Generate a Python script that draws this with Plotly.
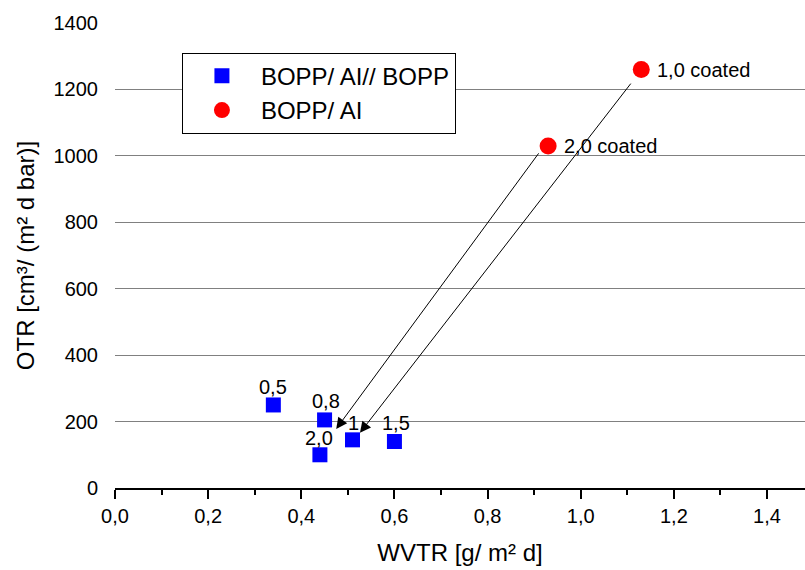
import plotly.graph_objects as go

# BOPP/Al//BOPP laminates (labelled by coating weight)
lam_wvtr = [0.34, 0.45, 0.44, 0.51, 0.60]
lam_otr = [250, 205, 100, 145, 140]
lam_labels = ["0,5", "0,8", "2,0", "1", "1,5"]

# BOPP/Al, coated
al_wvtr = [0.93, 1.13]
al_otr = [1030, 1260]
al_labels = ["2,0 coated", "1,0 coated"]

# Arrows from each coated BOPP/Al point to its laminate counterpart
arrow_tail_x = [0.912, 1.110]
arrow_tail_y = [1012, 1222]
arrow_head_x = [0.475, 0.526]
arrow_head_y = [178, 166]

x_ticks = [0.0, 0.2, 0.4, 0.6, 0.8, 1.0, 1.2, 1.4]
x_ticktext = ["0,0", "0,2", "0,4", "0,6", "0,8", "1,0", "1,2", "1,4"]
y_ticks = [0, 200, 400, 600, 800, 1000, 1200, 1400]

FONT = "Arial, Liberation Sans, sans-serif"

fig = go.Figure()
fig.add_trace(go.Scatter(
    x=lam_wvtr, y=lam_otr, mode="markers", name="BOPP/ AI// BOPP",
    marker=dict(symbol="square", size=15, color="#0000ff", line=dict(width=0)),
))
fig.add_trace(go.Scatter(
    x=al_wvtr, y=al_otr, mode="markers", name="BOPP/ AI",
    marker=dict(symbol="circle", size=17, color="#ff0000", line=dict(width=0)),
))

annotations = []
# Value labels above the laminate points
label_shift = {"0,5": (0, 18), "0,8": (1, 19), "2,0": (-1, 17), "1": (1, 17), "1,5": (2, 19)}
for x, y, t in zip(lam_wvtr, lam_otr, lam_labels):
    dx, dy = label_shift[t]
    annotations.append(dict(
        x=x, y=y, xref="x", yref="y", text=t, showarrow=False,
        xshift=dx, yshift=dy, font=dict(family=FONT, size=20, color="black"),
    ))
# Labels to the right of the coated points
for x, y, t in zip(al_wvtr, al_otr, al_labels):
    annotations.append(dict(
        x=x, y=y, xref="x", yref="y", text=t, showarrow=False,
        xanchor="left", xshift=14, font=dict(family=FONT, size=20, color="black"),
    ))
# Arrows
for tx, ty, hx, hy in zip(arrow_tail_x, arrow_tail_y, arrow_head_x, arrow_head_y):
    annotations.append(dict(
        x=hx, y=hy, ax=tx, ay=ty, xref="x", yref="y", axref="x", ayref="y",
        text="", showarrow=True, arrowhead=2, arrowsize=2.2, arrowwidth=1,
        arrowcolor="black", standoff=0, startstandoff=0,
    ))

fig.update_layout(
    width=805, height=570,
    margin=dict(l=115, r=0, t=23, b=82),
    paper_bgcolor="white", plot_bgcolor="white",
    font=dict(family=FONT, color="black", size=19),
    showlegend=True,
    legend=dict(
        x=0.097, y=0.936, xanchor="left", yanchor="top",
        bgcolor="white", bordercolor="black", borderwidth=1,
        font=dict(family=FONT, size=24, color="black"),
        itemwidth=68, tracegroupgap=0,
        entrywidth=214, entrywidthmode="pixels",
    ),
    annotations=annotations,
    xaxis=dict(
        range=[0, 1.4816], tickvals=x_ticks, ticktext=x_ticktext,
        showgrid=False, zeroline=False,
        showline=True, linecolor="black", linewidth=1.5,
        ticks="outside", ticklen=9, tickwidth=1.5, tickcolor="black",
        minor=dict(dtick=0.1, ticks="outside", ticklen=5, tickwidth=1.5, tickcolor="black", showgrid=False),
        tickfont=dict(family=FONT, size=20),
        title=dict(text="WVTR [g/ m² d]", font=dict(family=FONT, size=24), standoff=18),
    ),
    yaxis=dict(
        range=[0, 1400], tickvals=y_ticks,
        showgrid=True, gridcolor="#808080", gridwidth=1,
        zeroline=False, showline=False, ticks="",
        ticklabelstandoff=16,
        tickfont=dict(family=FONT, size=20),
        title=dict(text="OTR [cm³/ (m² d bar)]", font=dict(family=FONT, size=24), standoff=12),
    ),
)

fig.write_html("out.html")
